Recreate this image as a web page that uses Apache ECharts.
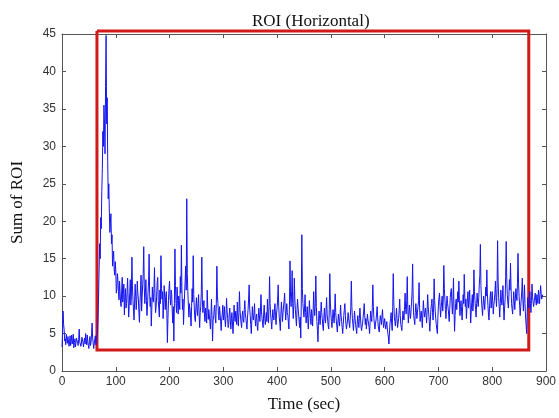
<!DOCTYPE html>
<html>
<head>
<meta charset="utf-8">
<script src="https://cdn.jsdelivr.net/npm/echarts@6/dist/echarts.min.js"></script>
<style>
html,body{margin:0;padding:0;background:#fff;}
#chart{width:559px;height:418px;}
</style>
</head>
<body>
<div id="chart"></div>
<script>
// Sampling: one value every second starting at t = 0
var sampleStart = 0;
var sampleStep = 1;

var roiSum = [
  3.2, 5.0, 8.0, 6.2, 5.5, 4.0, 4.3, 3.5, 4.9, 4.2, 3.7, 4.6, 4.4, 3.3, 3.9, 4.7, 3.4, 4.0, 4.8, 3.6, 4.1, 4.9, 3.1, 3.8, 4.3, 3.2, 3.8, 4.4, 4.5, 3.7, 3.4, 4.2, 5.6, 3.9, 4.1, 3.3, 3.6, 4.5, 4.6, 3.8, 3.2, 4.0, 4.4, 3.6, 5.0, 4.2, 3.5, 4.8, 3.9, 3.4,
  3.0, 4.1, 4.6, 3.4, 3.8, 5.0, 6.4, 4.4, 4.2, 3.0, 3.1, 4.3, 4.7, 3.5, 3.6, 4.8, 5.2, 7.0, 10.0, 13.5, 17.0, 15.0, 20.5, 19.0, 24.0, 27.0, 32.0, 30.0, 35.5, 33.0, 29.0, 38.0, 44.8, 33.0, 36.5, 28.0, 23.0, 25.0, 21.5, 18.5, 19.8, 21.0, 17.0, 18.2, 14.0, 15.2, 16.0, 13.6, 12.8, 14.6,
  13.5, 10.4, 11.0, 13.0, 12.2, 10.6, 9.5, 12.0, 11.8, 9.0, 8.6, 10.8, 12.5, 9.2, 10.2, 11.6, 7.5, 9.8, 11.0, 8.4, 9.0, 10.6, 12.4, 9.6, 7.2, 8.8, 10.5, 12.2, 8.8, 10.0, 15.2, 11.4, 9.4, 8.0, 6.8, 9.2, 11.6, 10.0, 8.2, 9.6, 12.0, 10.4, 9.6, 7.8, 6.5, 9.0, 10.8, 12.8, 8.0, 9.8,
  11.5, 13.0, 16.6, 11.2, 9.0, 10.4, 12.2, 9.4, 7.4, 8.8, 10.5, 12.0, 15.6, 10.2, 8.6, 9.8, 6.0, 8.2, 11.2, 9.6, 9.2, 11.0, 13.8, 9.8, 7.8, 8.6, 10.0, 11.8, 12.5, 9.4, 8.4, 7.2, 10.8, 9.0, 15.4, 11.0, 9.6, 10.6, 7.0, 8.8, 11.4, 9.8, 8.2, 10.0, 10.6, 7.6, 3.8, 7.0, 9.4, 11.0,
  12.0, 9.6, 8.8, 10.8, 10.2, 8.0, 6.4, 8.6, 4.0, 9.0, 16.3, 11.4, 9.0, 7.8, 11.2, 9.4, 7.6, 10.0, 9.8, 8.2, 12.6, 10.4, 16.8, 11.0, 8.2, 9.6, 6.2, 8.4, 10.4, 12.0, 14.0, 10.8, 23.0, 13.0, 10.6, 8.8, 7.2, 9.0, 9.2, 7.4, 6.0, 8.6, 11.0, 9.2, 15.4, 10.2, 8.4, 7.0, 6.6, 8.6,
  9.8, 8.2, 7.4, 9.0, 10.2, 7.6, 5.8, 7.8, 8.6, 10.4, 15.2, 9.6, 7.8, 8.8, 9.4, 7.2, 6.6, 8.4, 8.2, 6.4, 10.8, 8.6, 6.9, 8.2, 8.0, 6.6, 5.6, 7.4, 9.6, 7.0, 4.0, 6.8, 7.2, 8.4, 8.8, 7.0, 6.4, 9.2, 14.0, 10.0, 9.0, 7.4, 6.8, 8.6, 8.4, 6.6, 5.4, 7.0, 7.6, 8.8,
  6.8, 7.6, 8.6, 6.8, 5.9, 7.4, 9.7, 8.0, 7.0, 5.8, 6.2, 7.6, 8.4, 6.8, 5.6, 7.0, 7.8, 6.4, 5.0, 6.6, 8.8, 7.2, 6.6, 8.0, 7.4, 6.2, 9.2, 7.6, 6.0, 7.8, 10.6, 8.2, 7.2, 6.4, 5.8, 7.4, 8.0, 6.8, 6.5, 8.2, 9.4, 7.6, 7.0, 6.2, 5.6, 7.2, 8.2, 9.6, 11.5, 8.4,
  7.4, 6.2, 5.0, 6.8, 8.6, 7.2, 6.8, 7.8, 9.0, 7.0, 6.0, 7.2, 7.6, 6.0, 5.4, 7.0, 8.4, 7.4, 6.6, 8.0, 10.2, 8.0, 7.0, 6.4, 5.8, 7.6, 8.8, 7.2, 6.2, 7.0, 7.8, 6.6, 9.6, 7.8, 6.4, 8.6, 12.6, 9.0, 7.6, 6.6, 5.6, 7.0, 8.2, 7.2, 6.8, 8.0, 9.0, 7.4, 6.2, 7.6,
  8.4, 9.6, 11.5, 8.6, 7.2, 6.4, 5.4, 7.6, 9.2, 8.0, 6.6, 7.8, 8.0, 9.4, 10.4, 8.2, 6.8, 8.0, 9.0, 7.8, 7.4, 6.4, 5.6, 8.8, 14.7, 10.0, 8.6, 10.6, 13.4, 9.0, 7.0, 8.8, 12.4, 9.6, 8.2, 7.0, 6.0, 8.2, 9.6, 8.4, 7.6, 6.6, 5.8, 7.2, 4.4, 9.6, 18.2, 11.0, 9.0, 8.0,
  7.2, 8.4, 10.2, 7.8, 6.4, 7.4, 8.6, 7.0, 5.6, 7.2, 9.4, 8.0, 7.0, 6.2, 8.2, 7.4, 6.0, 8.0, 10.6, 8.4, 7.4, 9.0, 12.7, 8.6, 6.6, 5.4, 3.9, 6.6, 8.0, 7.0, 6.2, 7.6, 9.2, 7.8, 7.0, 6.0, 5.4, 7.2, 8.4, 7.0, 6.4, 8.0, 9.8, 7.6, 6.8, 6.0, 5.6, 8.2, 13.0, 9.2,
  7.6, 6.6, 5.8, 7.0, 8.2, 7.2, 6.4, 8.0, 10.3, 7.8, 6.8, 6.0, 5.2, 6.4, 7.6, 6.8, 6.0, 7.2, 8.8, 7.4, 6.6, 5.8, 5.0, 6.2, 7.4, 8.2, 9.0, 7.4, 6.2, 5.6, 5.4, 6.8, 7.8, 7.0, 6.4, 5.8, 5.6, 8.4, 12.0, 8.6, 7.0, 6.2, 5.4, 6.8, 8.0, 7.0, 6.2, 5.6, 5.0, 6.4,
  7.4, 6.6, 5.8, 7.0, 8.4, 7.2, 6.0, 5.4, 5.2, 6.4, 7.2, 8.0, 9.0, 7.4, 6.2, 7.0, 5.6, 6.6, 7.6, 6.8, 6.4, 5.8, 5.0, 6.6, 8.0, 7.2, 6.6, 8.4, 11.5, 8.6, 7.0, 6.2, 5.6, 6.4, 6.8, 7.6, 8.6, 7.2, 6.0, 5.6, 5.2, 6.6, 7.4, 6.8, 6.2, 7.4, 8.2, 6.8, 5.8, 6.4,
  7.0, 6.2, 5.6, 6.2, 6.6, 5.6, 5.0, 4.4, 3.6, 5.2, 6.4, 7.0, 7.8, 6.4, 5.4, 8.6, 13.0, 9.2, 7.2, 6.6, 6.0, 7.2, 8.4, 7.0, 5.8, 6.4, 7.0, 8.2, 9.6, 7.4, 6.2, 5.8, 5.4, 6.8, 8.0, 7.2, 6.8, 8.6, 10.4, 8.2, 7.6, 9.4, 12.6, 8.4, 6.4, 7.6, 8.8, 7.8, 7.0, 8.0,
  9.2, 10.6, 14.3, 9.6, 7.4, 6.8, 6.2, 7.8, 9.0, 8.0, 7.0, 7.8, 8.6, 9.4, 11.8, 8.4, 6.6, 7.4, 8.0, 7.0, 5.8, 7.6, 9.4, 8.2, 7.2, 7.8, 8.4, 7.4, 6.4, 8.2, 10.2, 8.6, 7.6, 6.6, 5.3, 6.8, 8.2, 9.0, 9.6, 7.8, 6.8, 8.4, 12.3, 9.4, 8.0, 7.0, 6.2, 5.6, 5.0, 7.2,
  8.8, 9.8, 10.4, 8.6, 7.2, 8.4, 9.2, 10.0, 8.0, 9.6, 14.1, 11.0, 9.6, 8.2, 7.0, 8.8, 10.0, 9.0, 8.4, 7.6, 6.6, 8.2, 9.8, 10.6, 11.0, 9.0, 7.6, 9.4, 12.4, 8.0, 5.3, 7.4, 9.0, 9.6, 8.2, 9.4, 10.6, 9.2, 12.0, 9.4, 7.4, 8.6, 9.4, 8.0, 6.8, 8.6, 10.2, 9.0, 12.9, 10.0,
  8.6, 9.6, 7.0, 8.4, 9.8, 10.6, 8.4, 9.4, 10.8, 8.8, 6.4, 8.0, 9.2, 10.2, 8.0, 9.0, 13.5, 10.6, 9.4, 8.2, 7.2, 9.0, 10.4, 9.2, 8.6, 9.8, 11.6, 12.8, 16.9, 11.4, 9.6, 8.4, 7.4, 8.8, 10.0, 9.2, 8.2, 9.6, 11.2, 10.0, 13.5, 10.4, 8.8, 7.6, 6.8, 8.4, 9.8, 10.6, 8.4, 9.4,
  10.6, 9.2, 7.6, 8.8, 9.4, 10.4, 12.0, 9.8, 8.6, 11.0, 17.4, 12.0, 9.8, 8.6, 7.2, 9.0, 10.8, 9.6, 8.8, 10.0, 11.4, 8.6, 6.8, 8.4, 9.6, 12.6, 17.3, 12.4, 10.2, 9.2, 8.4, 10.0, 12.2, 10.8, 14.4, 11.2, 9.0, 8.2, 7.6, 9.2, 10.6, 9.4, 8.2, 9.6, 11.0, 10.0, 9.4, 11.8, 15.7, 11.6,
  10.0, 8.8, 7.4, 8.6, 9.6, 10.8, 12.4, 9.6, 8.0, 9.4, 11.5, 9.0, 7.2, 6.2, 5.0, 7.6, 9.8, 8.8, 8.4, 9.6, 10.6, 9.0, 7.8, 9.4, 11.6, 10.0, 9.2, 8.6, 8.4, 9.8, 10.4, 9.4, 8.8, 10.2, 9.6, 9.0, 10.8, 10.0, 9.0, 10.2, 11.4, 10.4, 9.6, 10.0, 10.2
];

// Red ROI box: [xStart, xEnd, yBottom, yTop]
var roiBox = [65, 868, 2.8, 45.4];

var xTicks = { min: 0, max: 900, interval: 100 };
var yTicks = { min: 0, max: 45, interval: 5 };

var titleText = 'ROI (Horizontal)';
var xName = 'Time (sec)';
var yName = 'Sum of ROI';

var seriesData = roiSum.map(function (v, i) { return [sampleStart + i * sampleStep, v]; });
var boxPath = [
  [roiBox[0], roiBox[3]], [roiBox[1], roiBox[3]], [roiBox[1], roiBox[2]],
  [roiBox[0], roiBox[2]], [roiBox[0], roiBox[3]]
];

var axisColor = '#555';
var serif = '"Liberation Serif", "DejaVu Serif", serif';
var sans = '"Liberation Sans", Arial, sans-serif';

function frameAxis(pos, lim) {
  return {
    type: 'value',
    position: pos,
    min: lim.min, max: lim.max, interval: lim.interval,
    axisLine: { show: true, onZero: false, lineStyle: { color: axisColor, width: 1 } },
    axisTick: { show: true, inside: true, length: 4, lineStyle: { color: axisColor } },
    axisLabel: { show: false },
    splitLine: { show: false }
  };
}

var chart = echarts.init(document.getElementById('chart'), null, { renderer: 'canvas' });
chart.setOption({
  backgroundColor: '#ffffff',
  animation: false,
  title: {
    text: titleText,
    left: 247, top: 8,
    textStyle: { fontFamily: serif, fontSize: 17, fontWeight: 'normal', color: '#111' }
  },
  grid: { left: 62, right: 13, top: 34, bottom: 45, containLabel: false },
  xAxis: [
    {
      type: 'value', position: 'bottom',
      min: xTicks.min, max: xTicks.max, interval: xTicks.interval,
      name: xName, nameLocation: 'middle', nameGap: 25,
      nameTextStyle: { fontFamily: serif, fontSize: 17, color: '#111' },
      axisLine: { show: true, onZero: false, lineStyle: { color: axisColor, width: 1 } },
      axisTick: { show: true, inside: true, length: 4, lineStyle: { color: axisColor } },
      axisLabel: { color: '#333', fontFamily: sans, fontSize: 12, margin: 5 },
      splitLine: { show: false }
    },
    frameAxis('top', xTicks)
  ],
  yAxis: [
    {
      type: 'value', position: 'left',
      min: yTicks.min, max: yTicks.max, interval: yTicks.interval,
      name: yName, nameLocation: 'middle', nameGap: 36, nameRotate: 90,
      nameTextStyle: { fontFamily: serif, fontSize: 17, color: '#111' },
      axisLine: { show: true, onZero: false, lineStyle: { color: axisColor, width: 1 } },
      axisTick: { show: true, inside: true, length: 4, lineStyle: { color: axisColor } },
      axisLabel: { color: '#333', fontFamily: sans, fontSize: 12, margin: 6 },
      splitLine: { show: false }
    },
    frameAxis('right', yTicks)
  ],
  series: [
    {
      type: 'line',
      xAxisIndex: 0, yAxisIndex: 0,
      data: boxPath,
      showSymbol: false,
      symbol: 'none',
      clip: false,
      silent: true,
      lineStyle: { color: '#d21818', width: 3, join: 'miter' }
    },
    {
      type: 'line',
      xAxisIndex: 0, yAxisIndex: 0,
      data: seriesData,
      showSymbol: false,
      symbol: 'none',
      clip: false,
      silent: true,
      lineStyle: { color: '#1414f0', width: 1 }
    }
  ]
});
</script>
</body>
</html>
